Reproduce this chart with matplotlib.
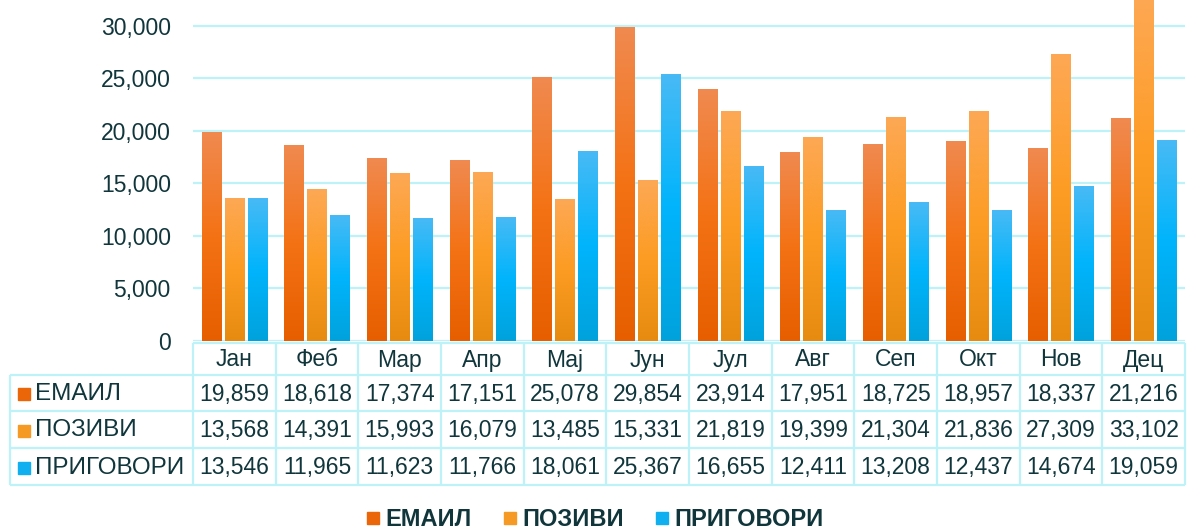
import matplotlib
matplotlib.use("Agg")
import matplotlib.pyplot as plt
import numpy as np
from matplotlib.colors import LinearSegmentedColormap
from matplotlib.lines import Line2D

plt.rcParams['font.family'] = ['Liberation Sans', 'DejaVu Sans']

months = ['Јан', 'Феб', 'Мар', 'Апр', 'Мај', 'Јун', 'Јул', 'Авг', 'Сеп', 'Окт', 'Нов', 'Дец']
series_names = ['ЕМАИЛ', 'ПОЗИВИ', 'ПРИГОВОРИ']
email = [19859, 18618, 17374, 17151, 25078, 29854, 23914, 17951, 18725, 18957, 18337, 21216]
pozivi = [13568, 14391, 15993, 16079, 13485, 15331, 21819, 19399, 21304, 21836, 27309, 33102]
prigovori = [13546, 11965, 11623, 11766, 18061, 25367, 16655, 12411, 13208, 12437, 14674, 19059]
yticks = [0, 5000, 10000, 15000, 20000, 25000, 30000]

# gradient stops (top, middle, bottom) for each series
grads = [
    ['#f08a50', '#f47214', '#e65e00'],
    ['#fda855', '#fd9c22', '#e68b10'],
    ['#48baf5', '#00b4fc', '#00a2dc'],
]
legend_colors = ['#ea6608', '#f59a25', '#10b0f0']
text_color = '#10363c'
line_color = '#bdf3f8'

W, H = 1191, 532
fig = plt.figure(figsize=(W / 100, H / 100), dpi=100)

# chart area in pixels
left, right, base = 193, 1185, 341
ax = fig.add_axes([left / W, (H - base) / H, (right - left) / W, base / H])

x = np.arange(len(months))
offsets = [-0.278, 0.0, 0.278]
width = 0.235
for s, vals in enumerate([email, pozivi, prigovori]):
    cmap = LinearSegmentedColormap.from_list('g%d' % s, grads[s][::-1])
    grad = np.linspace(0, 1, 256).reshape(-1, 1)
    for i, v in enumerate(vals):
        x0 = x[i] + offsets[s] - width / 2
        ax.imshow(grad, extent=[x0, x0 + width, 0, v], origin='lower',
                  cmap=cmap, aspect='auto', zorder=3, interpolation='bicubic')

ax.set_xlim(-0.5, len(months) - 0.5)
ax.set_ylim(0, 32476)
ax.set_yticks(yticks)
ax.set_yticklabels([f'{t:,}' for t in yticks], fontsize=16.5, color=text_color)
ax.tick_params(axis='y', length=0, pad=16)
ax.set_xticks([])
ax.grid(axis='y', color=line_color, linewidth=1.6, zorder=0)
for sp in ax.spines.values():
    sp.set_visible(False)

# data table drawn in pixel coordinates
tab = fig.add_axes([0, 0, 1, 1])
tab.set_xlim(0, W)
tab.set_ylim(H, 0)
tab.axis('off')
tab.patch.set_alpha(0)

col_w = (right - left) / len(months)
rows = [343, 375, 411, 448, 485]
lkw = dict(color=line_color, linewidth=1.6, solid_capstyle='butt')
tab.plot([left, right], [rows[0], rows[0]], **lkw)
for r in rows[1:]:
    tab.plot([10, right], [r, r], **lkw)
tab.plot([10, 10], [rows[1], rows[-1]], **lkw)
for j in range(len(months) + 1):
    xe = left + j * col_w
    tab.plot([xe, xe], [rows[0], rows[-1]], **lkw)

for j, m in enumerate(months):
    tab.text(left + (j + 0.5) * col_w, (rows[0] + rows[1]) / 2 + 1, m,
             ha='center', va='center', fontsize=16.5, color=text_color)

for s, vals in enumerate([email, pozivi, prigovori]):
    yc = (rows[s + 1] + rows[s + 2]) / 2 + 1
    tab.add_patch(plt.Rectangle((18, yc - 6), 12, 12, color=legend_colors[s]))
    tab.text(35, yc, series_names[s], ha='left', va='center',
             fontsize=17.5, color=text_color)
    for j, v in enumerate(vals):
        tab.text(left + (j + 0.5) * col_w, yc, f'{v:,}', ha='center',
                 va='center', fontsize=16.5, color=text_color)

handles = [Line2D([], [], marker='s', linestyle='none', markersize=9,
                  markerfacecolor=c, markeredgecolor=c) for c in legend_colors]
fig.legend(handles, series_names, loc='center', bbox_to_anchor=(593 / W, (H - 520) / H),
           ncol=3, frameon=False, handletextpad=0.05, columnspacing=1.2,
           handlelength=0.9, prop={'size': 17, 'weight': 'bold'},
           labelcolor=text_color)

fig.savefig('out.png', dpi=100)
